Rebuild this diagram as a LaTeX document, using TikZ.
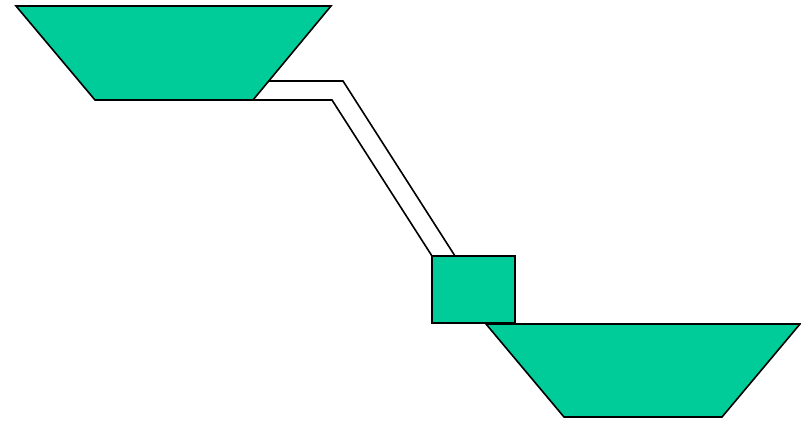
\documentclass[tikz,border=0pt]{standalone}
\definecolor{tank}{HTML}{00CC99}
\begin{document}
\begin{tikzpicture}[x=1pt,y=-1pt,
  tankshape/.style={fill=tank,draw=black,line width=1.6pt,line join=miter},
  pipeline/.style={draw=black,line width=1.6pt}]
\useasboundingbox (0,0) rectangle (801,421);
% upper reservoir
\path[tankshape] (16,6) -- (331,6) -- (253,100) -- (95,100) -- cycle;
% pipe
\draw[pipeline] (268,81) -- (343,81) -- (455,256);
\draw[pipeline] (253,100) -- (332,100) -- (432,256);
% turbine box
\path[tankshape] (432,256) rectangle (515,323);
% lower reservoir
\path[tankshape] (486,324) -- (800,324) -- (722,417) -- (564,417) -- cycle;
\end{tikzpicture}
\end{document}
